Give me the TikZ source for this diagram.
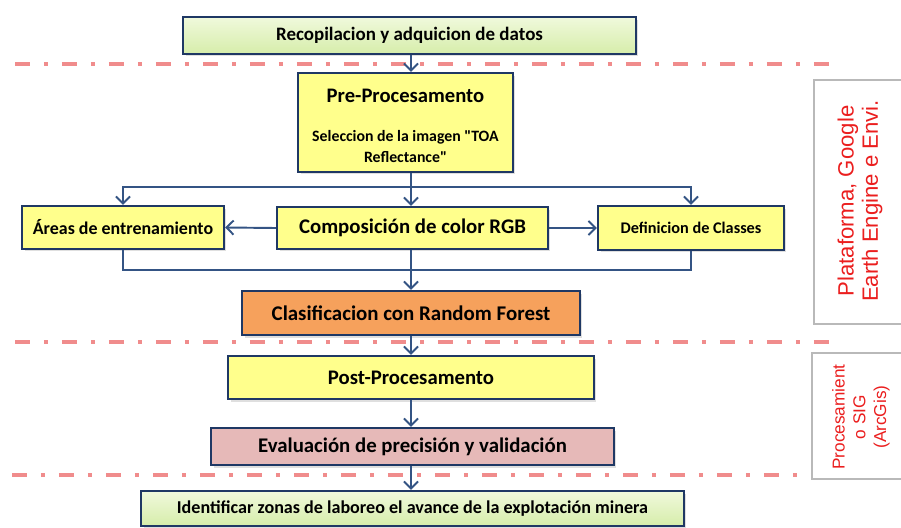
\documentclass[tikz,border=0pt]{standalone}
\usepackage{fontspec}
\setmainfont{Carlito}[Ligatures=TeXOff]
\newfontfamily\arialfont{Liberation Sans}
\usetikzlibrary{arrows.meta,shadows}

\definecolor{navy}{RGB}{31,56,100}
\definecolor{linkblue}{RGB}{52,84,132}
\definecolor{stepyellow}{RGB}{255,255,140}
\definecolor{steporange}{RGB}{246,161,92}
\definecolor{steppink}{RGB}{230,185,184}
\definecolor{greentop}{RGB}{240,249,220}
\definecolor{greenbot}{RGB}{214,237,170}
\definecolor{seppink}{RGB}{240,140,140}
\definecolor{toolred}{RGB}{235,30,30}

\begin{document}
\begin{tikzpicture}[
    x=0.02cm, y=-0.02cm,
    >={Straight Barb[length=4pt,width=8pt]},
    every node/.style={font=\bfseries},
    box/.style={
        draw=navy,
        line width=1.3pt,
        align=center,
        drop shadow={opacity=0.25, shadow xshift=0.05cm, shadow yshift=-0.05cm}
    },
    greenbox/.style={box, top color=greentop, bottom color=greenbot},
    arr/.style={->, linkblue, line width=1.1pt},
    link/.style={linkblue, line width=1.1pt},
    sep/.style={seppink, line width=2.8pt,
        dash pattern=on 0.30cm off 0.28cm on 0.08cm off 0.28cm},
    tool/.style={draw=gray!55, fill=white, line width=0.6pt},
    tooltext/.style={font=\arialfont, text=toolred, rotate=90, align=center}
]
    \useasboundingbox (0,0) rectangle (901,527);

    % Phase separators
    \draw[sep] (15,64) -- (840,64);
    \draw[sep] (15,342) -- (838,342);
    \draw[sep] (12,475) -- (812,475);

    % Input
    \node[greenbox, minimum width=9.06cm, minimum height=0.74cm,
        font=\fontsize{10.8}{13}\selectfont\bfseries] (rec) at (409.5,35.5)
        {Recopilacion y adquicion de datos};

    % Pre-processing
    \node[box, fill=stepyellow, minimum width=4.30cm, minimum height=1.98cm] (pre) at (405.5,122.5) {};
    \node[font=\fontsize{11.75}{14}\selectfont\bfseries] (pretitle) at (405.5,96)
        {Pre-Procesamento};
    \node[align=center, font=\fontsize{9}{11.6}\selectfont\bfseries] (presub) at (405.5,146.5)
        {Seleccion de la imagen "TOA\\Reflectance"};

    \node[box, fill=stepyellow, minimum width=4.04cm, minimum height=0.86cm,
        font=\fontsize{10.2}{12}\selectfont\bfseries] (areas) at (123,227.5)
        {Áreas de entrenamiento};
    \node[box, fill=stepyellow, minimum width=5.42cm, minimum height=0.84cm,
        font=\fontsize{11.85}{14}\selectfont\bfseries] (comp) at (412.5,228)
        {Composición de color RGB};
    \node[box, fill=stepyellow, minimum width=3.72cm, minimum height=0.88cm,
        font=\fontsize{9.25}{11}\selectfont\bfseries] (defi) at (691,228)
        {Definicion de Classes};

    % Classification
    \node[box, fill=steporange, minimum width=6.76cm, minimum height=0.88cm,
        font=\fontsize{11.9}{14}\selectfont\bfseries] (clasif) at (411,313)
        {Clasificacion con Random Forest};

    % Post-processing
    \node[box, fill=stepyellow, minimum width=7.32cm, minimum height=0.86cm,
        font=\fontsize{11.8}{14}\selectfont\bfseries] (post) at (411,377.5)
        {Post-Procesamento};
    \node[box, fill=steppink, minimum width=8.06cm, minimum height=0.74cm,
        font=\fontsize{11.85}{14}\selectfont\bfseries] (eval) at (412.5,446.5)
        {Evaluación de precisión y validación};

    % Result
    \node[greenbox, minimum width=10.86cm, minimum height=0.70cm,
        font=\fontsize{10.3}{12}\selectfont\bfseries] (ident) at (412.5,508.5)
        {Identificar zonas de laboreo el avance de la explotación minera};

    % Flow
    \coordinate (spine) at (411,0);
    \coordinate (split) at (411,187);
    \coordinate (merge) at (411,270);
    \draw[arr] (rec.south -| spine) -- (pre.north -| spine);
    \draw[link] (pre.south -| spine) -- (split);
    \draw[arr] (split) -| (areas.north);
    \draw[arr] (split) -| (defi.north);
    \draw[arr] (split) -- (comp.north -| spine);
    \draw[arr] (comp.west) -- (areas.east);
    \draw[arr] (comp.east) -- (defi.west);
    \draw[link] (areas.south) |- (merge) -| (defi.south);
    \draw[arr] (comp.south -| spine) -- (clasif.north -| spine);
    \draw[arr] (clasif.south -| spine) -- (post.north -| spine);
    \draw[arr] (post.south -| spine) -- (eval.north -| spine);
    \draw[arr] (eval.south -| spine) -- (ident.north -| spine);

    % Tools
    \draw[tool] (814,80) rectangle (905,324);
    \node[tooltext, font=\arialfont\fontsize{12.6}{13.8}\selectfont] (gee) at (860,201)
        {Plataforma, Google\\Earth Engine e Envi.};
    \draw[tool] (812,353) rectangle (905,479);
    \node[tooltext, font=\arialfont\fontsize{9.8}{11.8}\selectfont] (sig) at (861,417)
        {Procesamient\\o SIG\\(ArcGis)};
\end{tikzpicture}
\end{document}
